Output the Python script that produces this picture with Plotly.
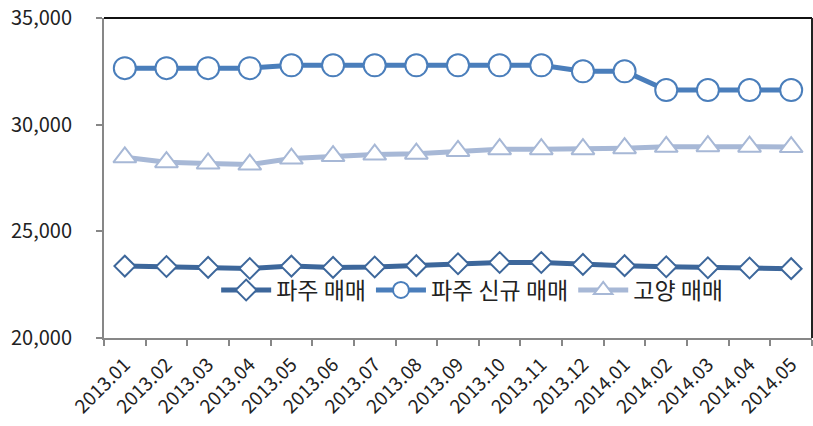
import plotly.graph_objects as go

months = ["2013.01", "2013.02", "2013.03", "2013.04", "2013.05", "2013.06", "2013.07",
          "2013.08", "2013.09", "2013.10", "2013.11", "2013.12", "2014.01", "2014.02",
          "2014.03", "2014.04", "2014.05"]
paju_sale = [23370, 23350, 23310, 23260, 23370, 23310, 23330, 23390, 23480, 23540,
             23540, 23450, 23390, 23340, 23290, 23280, 23250]
paju_new = [32650, 32650, 32650, 32650, 32780, 32780, 32780, 32780, 32780, 32780,
            32780, 32500, 32500, 31620, 31620, 31620, 31620]
goyang_sale = [28470, 28240, 28180, 28130, 28410, 28530, 28600, 28640, 28770, 28850,
               28850, 28850, 28900, 28960, 28990, 28970, 28950]
names = ["파주 매매", "파주 신규 매매", "고양 매매"]

FONT = "Noto Sans CJK KR"

fig = go.Figure()
fig.add_trace(go.Scatter(
    x=months, y=paju_sale, name=names[0], mode="lines+markers",
    line=dict(color="#3d679b", width=5),
    marker=dict(symbol="diamond", size=16, color="white",
                line=dict(color="#3d679b", width=2))))
fig.add_trace(go.Scatter(
    x=months, y=paju_new, name=names[1], mode="lines+markers",
    line=dict(color="#4a7ebb", width=5),
    marker=dict(symbol="circle", size=22, color="white",
                line=dict(color="#4a7ebb", width=2))))
fig.add_trace(go.Scatter(
    x=months, y=goyang_sale, name=names[2], mode="lines+markers",
    line=dict(color="#a7b8d6", width=5),
    marker=dict(symbol="triangle-up", size=20, color="white",
                line=dict(color="#a7b8d6", width=2))))

fig.update_layout(
    width=813, height=426,
    margin=dict(l=104, r=1, t=18, b=88),
    paper_bgcolor="white", plot_bgcolor="white",
    font=dict(family=FONT, size=20, color="#222222"),
    showlegend=True,
    legend=dict(orientation="h", x=0.52, xanchor="center", y=0.15, yanchor="middle",
                bgcolor="rgba(0,0,0,0)", font=dict(size=23, color="#222222"),
                itemwidth=50),
    xaxis=dict(type="category", range=[-0.5, 16.5], showgrid=False, automargin=False,
               showline=True, linecolor="#878787", linewidth=2,
               ticks="outside", tickson="boundaries", ticklen=6, tickcolor="#878787",
               tickwidth=2, tickangle=-45, ticklabelstandoff=6,
               tickfont=dict(size=19, family=FONT)),
    yaxis=dict(range=[20000, 35000], dtick=5000, tickformat=",d", showgrid=False,
               automargin=False,
               showline=True, linecolor="#878787", linewidth=2,
               ticks="outside", ticklen=6, tickcolor="#878787", tickwidth=2,
               ticklabelstandoff=20,
               tickfont=dict(size=20, family=FONT), zeroline=False),
    shapes=[
        dict(type="line", xref="paper", yref="paper", x0=0, x1=1, y0=1, y1=1,
             line=dict(color="#111111", width=2)),
        dict(type="line", xref="paper", yref="paper", x0=1, x1=1, y0=0, y1=1,
             line=dict(color="#222222", width=2)),
    ],
)

fig.write_html("out.html", config={"displayModeBar": False},
               post_script="document.body.style.margin='0';document.body.style.overflow='hidden';")
